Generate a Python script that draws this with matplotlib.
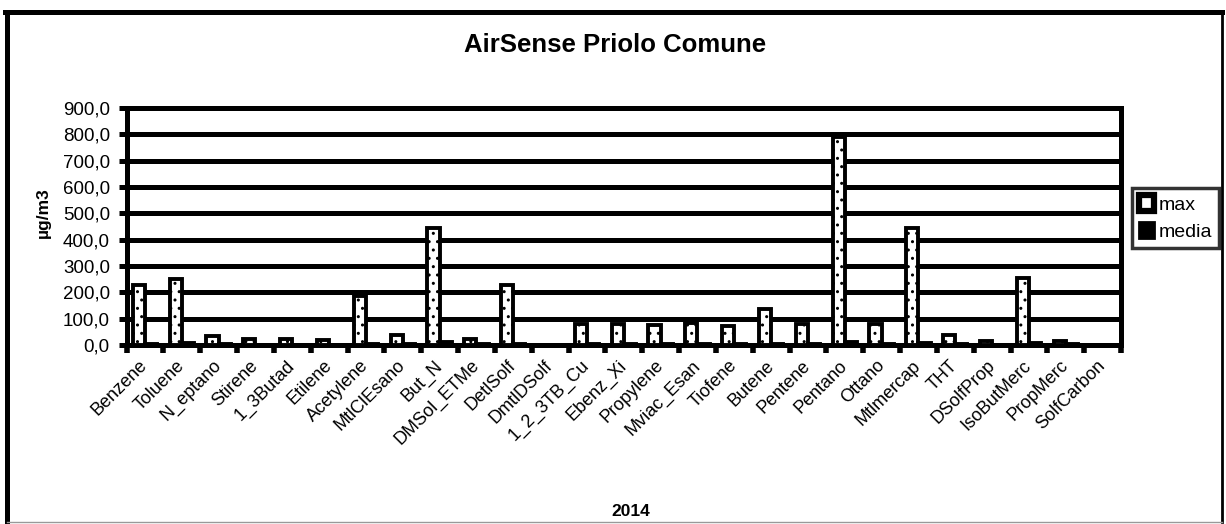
import matplotlib

matplotlib.use("Agg")
import matplotlib.pyplot as plt
import numpy as np
from matplotlib.lines import Line2D
from matplotlib.patches import Patch
from matplotlib.ticker import FuncFormatter, MultipleLocator
from matplotlib.transforms import ScaledTranslation

plt.rcParams["font.family"] = ["Liberation Sans", "DejaVu Sans"]
plt.rcParams["hatch.linewidth"] = 1.0

COMPOUNDS = [
    "Benzene", "Toluene", "N_eptano", "Stirene", "1_3Butad", "Etilene",
    "Acetylene", "MtlClEsano", "But_N", "DMSol_ETMe", "DetlSolf", "DmtlDSolf",
    "1_2_3TB_Cu", "Ebenz_Xi", "Propylene", "Mviac_Esan", "Tiofene", "Butene",
    "Pentene", "Pentano", "Ottano", "Mtlmercap", "THT", "DSolfProp",
    "IsoButMerc", "PropMerc", "SolfCarbon",
]
MAX_VALUES = [
    226, 250, 35, 22, 22, 20,
    186, 38, 444, 23, 226, 0,
    80, 81, 75, 83, 71, 137,
    79, 790, 81, 446, 39, 17,
    256, 14, 0,
]
MEAN_VALUES = [
    5, 6, 2, 1, 1, 1,
    4, 2, 13, 3, 5, 0,
    3, 4, 3, 3, 3, 4,
    5, 11, 4, 7, 2, 1,
    9, 2, 0,
]

fig = plt.figure(figsize=(12.26, 5.24), dpi=100)
ax = fig.add_axes([0.1032, 0.3416, 0.8112, 0.4523])

x = np.arange(len(COMPOUNDS)) + 0.5
w = 0.33
ax.bar(x - w / 2, MAX_VALUES, w, facecolor="white", edgecolor="black",
       hatch="..", linewidth=2.8, zorder=3)
ax.bar(x + w / 2, MEAN_VALUES, w, facecolor="black", edgecolor="black",
       linewidth=2.8, zorder=3)

ax.set_xlim(0, len(COMPOUNDS))
ax.set_ylim(0, 900)
ax.yaxis.set_major_locator(MultipleLocator(100))
ax.yaxis.set_major_formatter(FuncFormatter(lambda v, _: f"{v:.1f}".replace(".", ",")))
ax.yaxis.grid(True, color="black", linewidth=3.6)
ax.set_axisbelow(True)

ax.set_xticks(x)
ax.set_xticklabels(COMPOUNDS, rotation=45, ha="right", va="center",
                   rotation_mode="anchor", fontsize=13)
shift = ScaledTranslation(7 / 100, 0, fig.dpi_scale_trans)
for lbl in ax.get_xticklabels():
    lbl.set_transform(lbl.get_transform() + shift)
ax.set_xticks(np.arange(len(COMPOUNDS) + 1), minor=True)
ax.tick_params(axis="x", which="major", length=0, pad=13)
ax.tick_params(axis="x", which="minor", length=6, width=4, color="black")
ax.tick_params(axis="y", length=6, width=3.6, labelsize=13.5, pad=6)

for side in ["left", "bottom", "right", "top"]:
    ax.spines[side].set_linewidth(3.6)
    ax.spines[side].set_color("black")

ax.set_ylabel("µg/m3", fontsize=12.5, fontweight="bold")
ax.yaxis.set_label_coords(-0.076, 0.56)
ax.set_xlabel("2014", fontsize=12.5, fontweight="bold")
ax.xaxis.set_label_coords(0.507, -0.67)

fig.text(0.502, 0.914, "AirSense Priolo Comune", ha="center", va="center",
         fontsize=18.5, fontweight="bold")

handles = [
    Patch(facecolor="white", edgecolor="black", linewidth=4.5, label="max"),
    Patch(facecolor="black", edgecolor="black", linewidth=2, label="media"),
]
leg = fig.legend(handles=handles, loc="upper left",
                 bbox_to_anchor=(1132 / 1226, 1 - 188 / 524), fontsize=14,
                 handlelength=0.8, handleheight=0.9, handletextpad=0.2,
                 borderpad=0.35, labelspacing=0.45, borderaxespad=0,
                 fancybox=False)
leg.get_frame().set_edgecolor("black")
leg.get_frame().set_linewidth(2.5)

# outer chart frame
fig.add_artist(Line2D([7 / 1226, 7 / 1226], [2 / 524, 512 / 524], color="black", lw=3.6))
fig.add_artist(Line2D([5 / 1226, 1222 / 1226], [512 / 524, 512 / 524], color="black", lw=3.6))
fig.add_artist(Line2D([1222 / 1226, 1222 / 1226], [2 / 524, 512 / 524], color="black", lw=2))
fig.add_artist(Line2D([7 / 1226, 1222 / 1226], [2 / 524, 2 / 524], color="0.6", lw=1))

fig.savefig("out.png", dpi=100)
